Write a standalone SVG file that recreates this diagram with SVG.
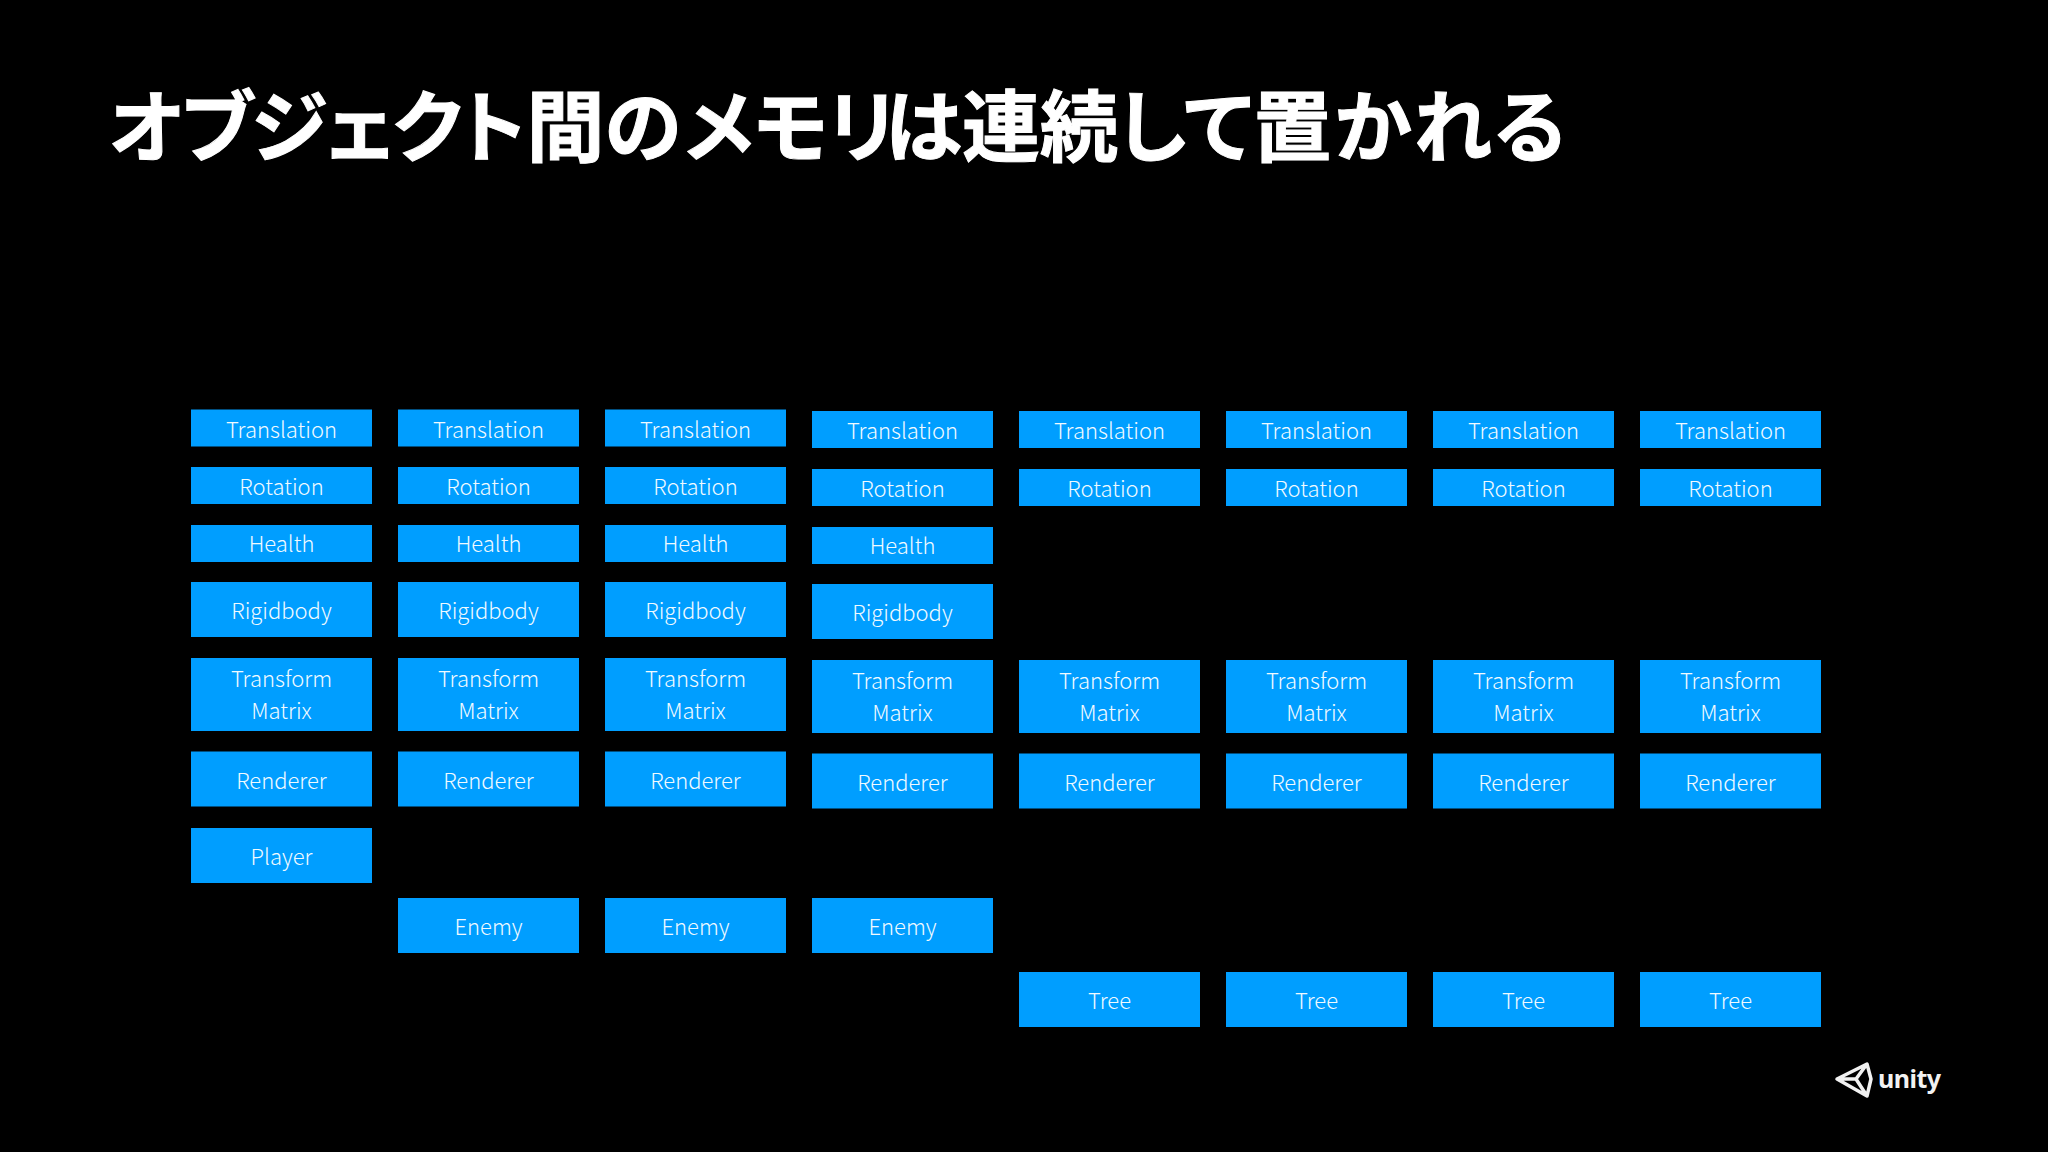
<svg xmlns="http://www.w3.org/2000/svg" width="2048" height="1152" viewBox="0 0 2048 1152">
<style>
.b{fill:#009eff}
.t{font-family:"Noto Sans CJK JP","Noto Sans",sans-serif;font-size:22px;font-weight:300;fill:#f0faff;text-anchor:middle}
.h{font-family:"Noto Sans CJK JP",sans-serif;font-size:78px;font-weight:700;fill:#fff;stroke:#fff;stroke-width:1;font-feature-settings:"palt"}
.u{font-family:"Noto Sans","Liberation Sans",sans-serif;font-size:25px;font-weight:700;fill:#f2f2f2;letter-spacing:-.5px}
</style>
<defs>
<g id="tr"><rect class="b" width="181" height="37"/><text class="t" x="90.500" y="28">Translation</text></g>
<g id="ro"><rect class="b" width="181" height="37"/><text class="t" x="90.500" y="28">Rotation</text></g>
<g id="he"><rect class="b" width="181" height="37"/><text class="t" x="90.500" y="27">Health</text></g>
<g id="ri"><rect class="b" width="181" height="55"/><text class="t" x="90.500" y="37">Rigidbody</text></g>
<g id="tm"><rect class="b" width="181" height="73"/><text class="t" x="90.500" y="28.500">Transform</text><text class="t" x="90.500" y="60.500">Matrix</text></g>
<g id="re"><rect class="b" width="181" height="55"/><text class="t" x="90.500" y="37">Renderer</text></g>
<g id="pl"><rect class="b" width="181" height="55"/><text class="t" x="90.500" y="37">Player</text></g>
<g id="en"><rect class="b" width="181" height="55"/><text class="t" x="90.500" y="37">Enemy</text></g>
<g id="te"><rect class="b" width="181" height="55"/><text class="t" x="90.500" y="37">Tree</text></g>
</defs>
<rect width="2048" height="1152" fill="#000"/>
<text class="h" x="109" y="156"><tspan letter-spacing="-2">オブジェクト</tspan><tspan dx="3">間の</tspan><tspan dx="3">メモリ</tspan><tspan dx="-10">は連続して</tspan><tspan dx="1">置</tspan><tspan dx="3">か</tspan><tspan dx="2">れ</tspan><tspan dx="2">る</tspan></text>
<g id="col1">
<use href="#tr" x="191" y="409.500"/><use href="#ro" x="191" y="467"/><use href="#he" x="191" y="525"/><use href="#ri" x="191" y="582"/><use href="#tm" x="191" y="658"/><use href="#re" x="191" y="751.500"/><use href="#pl" x="191" y="828"/>
</g>
<g id="col2">
<use href="#tr" x="398" y="409.500"/><use href="#ro" x="398" y="467"/><use href="#he" x="398" y="525"/><use href="#ri" x="398" y="582"/><use href="#tm" x="398" y="658"/><use href="#re" x="398" y="751.500"/><use href="#en" x="398" y="898"/>
</g>
<g id="col3">
<use href="#tr" x="605" y="409.500"/><use href="#ro" x="605" y="467"/><use href="#he" x="605" y="525"/><use href="#ri" x="605" y="582"/><use href="#tm" x="605" y="658"/><use href="#re" x="605" y="751.500"/><use href="#en" x="605" y="898"/>
</g>
<g id="col4">
<use href="#tr" x="812" y="411"/><use href="#ro" x="812" y="469"/><use href="#he" x="812" y="527"/><use href="#ri" x="812" y="584"/><use href="#tm" x="812" y="660"/><use href="#re" x="812" y="753.500"/><use href="#en" x="812" y="898"/>
</g>
<g id="col5">
<use href="#tr" x="1019" y="411"/><use href="#ro" x="1019" y="469"/><use href="#tm" x="1019" y="660"/><use href="#re" x="1019" y="753.500"/><use href="#te" x="1019" y="972"/>
</g>
<g id="col6">
<use href="#tr" x="1226" y="411"/><use href="#ro" x="1226" y="469"/><use href="#tm" x="1226" y="660"/><use href="#re" x="1226" y="753.500"/><use href="#te" x="1226" y="972"/>
</g>
<g id="col7">
<use href="#tr" x="1433" y="411"/><use href="#ro" x="1433" y="469"/><use href="#tm" x="1433" y="660"/><use href="#re" x="1433" y="753.500"/><use href="#te" x="1433" y="972"/>
</g>
<g id="col8">
<use href="#tr" x="1640" y="411"/><use href="#ro" x="1640" y="469"/><use href="#tm" x="1640" y="660"/><use href="#re" x="1640" y="753.500"/><use href="#te" x="1640" y="972"/>
</g>
<g id="logo">
<path d="M1837 1079L1867 1064L1871 1079L1867 1096ZM1837 1079H1856L1867 1064M1856 1079L1867 1096" fill="none" stroke="#f2f2f2" stroke-width="3.500" stroke-linejoin="round"/>
<text class="u" x="1878" y="1088">unity</text>
</g>
</svg>
